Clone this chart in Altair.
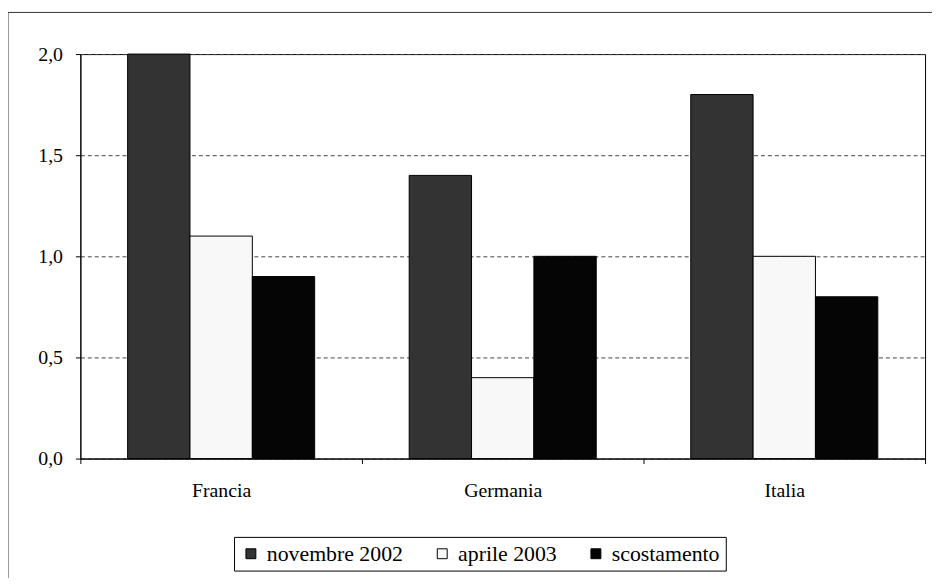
import altair as alt
import pandas as pd

categories = ["Francia", "Germania", "Italia"]
series = ["novembre 2002", "aprile 2003", "scostamento"]
nov_2002 = [2.0, 1.4, 1.8]
apr_2003 = [1.1, 0.4, 1.0]
scostamento = [0.9, 1.0, 0.8]
y_ticks = [0.0, 0.5, 1.0, 1.5, 2.0]
colors = ["#333333", "#f8f8f8", "#050505"]

rows = []
for i, c in enumerate(categories):
    for s, vals in zip(series, [nov_2002, apr_2003, scostamento]):
        rows.append({"paese": c, "serie": s, "valore": vals[i]})
df = pd.DataFrame(rows)

bars = alt.Chart(df).mark_bar(stroke="black", strokeWidth=1).encode(
    x=alt.X(
        "paese:N", sort=categories, title=None,
        scale=alt.Scale(paddingInner=0, paddingOuter=0),
        axis=alt.Axis(labelAngle=0, tickBand="extent", tickSize=5, labelPadding=17,
                      labelFont="Liberation Serif", labelFontSize=20, labelColor="black",
                      domainColor="black", tickColor="black", grid=False),
    ),
    xOffset=alt.XOffset("serie:N", sort=series,
                        scale=alt.Scale(paddingInner=0, paddingOuter=0.758)),
    y=alt.Y(
        "valore:Q", title=None,
        scale=alt.Scale(domain=[0, 2], nice=False),
        axis=alt.Axis(values=y_ticks,
                      labelExpr="replace(format(datum.value, '.1f'), '.', ',')",
                      tickSize=5, labelPadding=13,
                      labelFont="Liberation Serif", labelFontSize=20, labelColor="black",
                      domainColor="black", tickColor="black",
                      grid=True, gridColor="#444444", gridDash=[4, 3], gridWidth=1),
    ),
    color=alt.Color(
        "serie:N", sort=series,
        scale=alt.Scale(domain=series, range=colors),
        legend=alt.Legend(orient="none", legendX=155, legendY=487, direction="horizontal",
                          title=None, strokeColor="black", padding=6, fillColor="white",
                          symbolType="square", symbolSize=100, symbolStrokeColor="black",
                          symbolStrokeWidth=1, labelFont="Liberation Serif", labelFontSize=22,
                          labelColor="black", columnPadding=28, labelOffset=5),
    ),
)

frame = alt.Chart(pd.DataFrame({"f": [0]})).mark_rect(
    fillOpacity=0, stroke="#333333", strokeWidth=1
).encode(
    x=alt.value(-73), x2=alt.value(900), y=alt.value(-42), y2=alt.value(600)
)

chart = alt.layer(frame, bars).properties(
    width=852, height=408,
    autosize=alt.AutoSizeParams(type="none"),
    padding={"left": 73, "top": 44, "right": 7, "bottom": 118},
).configure_view(stroke="black", strokeWidth=1)

chart.save("out.html", embed_options={"renderer": "svg", "actions": False})
